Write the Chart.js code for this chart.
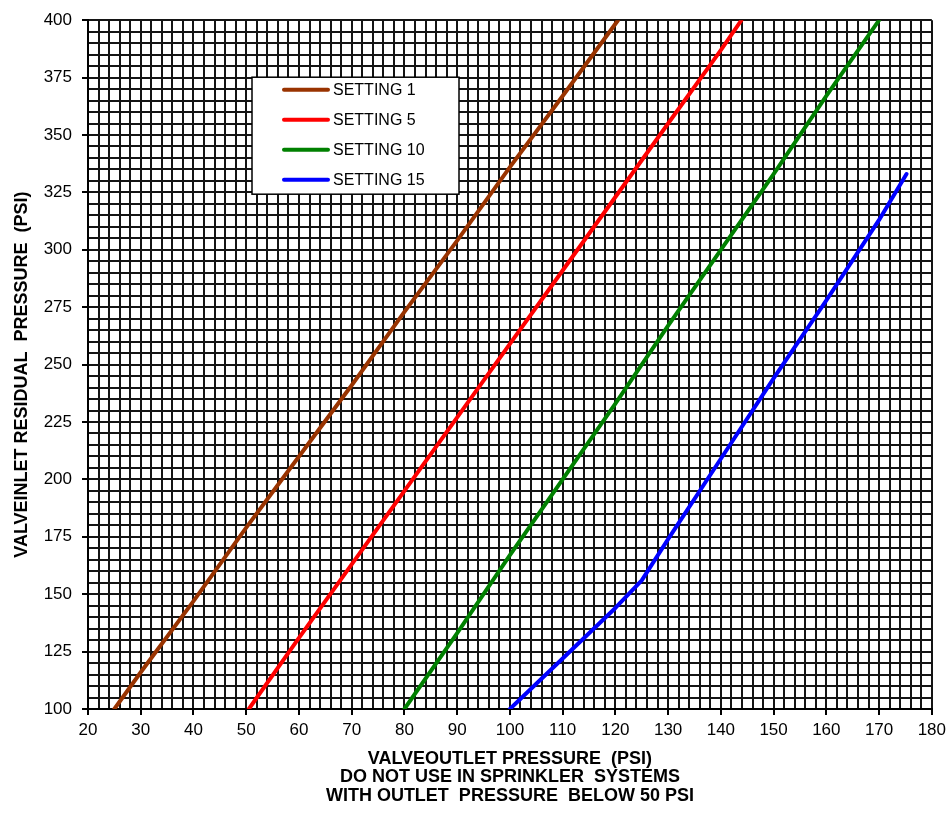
<!DOCTYPE html>
<html>
<head>
<meta charset="utf-8">
<title>Valve Pressure Chart</title>
<script src="https://cdn.jsdelivr.net/npm/chart.js@4.4.1/dist/chart.umd.min.js"></script>
<style>
  html, body { margin: 0; padding: 0; background: #fff; }
  #wrap { width: 951px; height: 820px; }
</style>
</head>
<body>
<div id="wrap"><canvas id="pressureChart"></canvas></div>
<script>
// series names / colors
var seriesLabels = ['SETTING 1', 'SETTING 5', 'SETTING 10', 'SETTING 15'];
var seriesColors = ['#993300', '#ff0000', '#008000', '#0000ff'];

// outlet pressure (x) / inlet residual pressure (y) per setting
var setting1Outlet = [25, 30, 40, 50, 60, 70, 80, 90, 100, 110, 120.5];
var setting1Inlet  = [100, 116, 147, 179, 210, 241, 273, 304, 336, 367, 400];
var setting5Outlet = [50.5, 60, 70, 80, 90, 100, 110, 120, 130, 140, 143.9];
var setting5Inlet  = [100, 131, 163, 195, 227, 259, 291, 323, 355, 387, 400];
var setting10Outlet = [80, 90, 100, 110, 120, 130, 140, 150, 160, 170];
var setting10Inlet  = [100, 133, 167, 200, 233, 267, 300, 333, 367, 400];
var setting15Outlet = [100, 105, 110, 115, 120, 125, 130, 140, 150, 160, 170, 175.2];
var setting15Inlet  = [100, 111, 122, 133, 144, 156, 174, 209, 244, 278, 313, 333];

// axis ticks
var xMin = 20, xMax = 180, xGridStep = 2, xLabelStep = 10;
var yMin = 100, yMax = 400, yGridStep = 5, yLabelStep = 25;

var xTitle = ['VALVEOUTLET PRESSURE  (PSI)', 'DO NOT USE IN SPRINKLER  SYSTEMS', 'WITH OUTLET  PRESSURE  BELOW 50 PSI'];
var yTitle = 'VALVEINLET RESIDUAL  PRESSURE  (PSI)    ';

var fontFamily = '"Liberation Sans", Arial, Helvetica, sans-serif';

function toPoints(xs, ys) {
  return xs.map(function(x, i) { return { x: x, y: ys[i] }; });
}

var allOutlet = [setting1Outlet, setting5Outlet, setting10Outlet, setting15Outlet];
var allInlet = [setting1Inlet, setting5Inlet, setting10Inlet, setting15Inlet];

var datasets = seriesLabels.map(function(label, i) {
  return {
    label: label,
    data: toPoints(allOutlet[i], allInlet[i]),
    borderColor: seriesColors[i],
    backgroundColor: seriesColors[i],
    borderWidth: 4,
    borderCapStyle: 'round',
    borderJoinStyle: 'round',
    showLine: true,
    pointRadius: 0,
    tension: 0
  };
});

// legend box drawn inside plot area
var insideLegend = {
  id: 'insideLegend',
  afterDatasetsDraw: function(chart) {
    var ctx = chart.ctx;
    var area = chart.chartArea;
    var bx = area.left + 164, by = area.top + 57, bw = 207, bh = 117;
    ctx.save();
    ctx.fillStyle = '#fff';
    ctx.fillRect(bx, by, bw, bh);
    ctx.strokeStyle = '#000';
    ctx.lineWidth = 1.5;
    ctx.strokeRect(bx, by, bw, bh);
    ctx.font = '16px ' + fontFamily;
    ctx.textBaseline = 'middle';
    ctx.fillStyle = '#000';
    chart.data.datasets.forEach(function(ds, i) {
      var ry = by + 12.5 + i * 30;
      ctx.beginPath();
      ctx.strokeStyle = ds.borderColor;
      ctx.lineWidth = 4;
      ctx.lineCap = 'round';
      ctx.moveTo(bx + 32, ry);
      ctx.lineTo(bx + 76, ry);
      ctx.stroke();
      ctx.fillStyle = '#000';
      ctx.fillText(ds.label, bx + 81, ry + 1);
    });
    ctx.restore();
  }
};

var ctx = document.getElementById('pressureChart').getContext('2d');
var pressureChart = new Chart(ctx, {
  type: 'scatter',
  data: { datasets: datasets },
  options: {
    responsive: true,
    maintainAspectRatio: false,
    animation: false,
    layout: { padding: { top: 16, right: 18, left: 0, bottom: 0 } },
    plugins: {
      legend: { display: false },
      tooltip: { enabled: false }
    },
    scales: {
      x: {
        type: 'linear',
        min: xMin,
        max: xMax,
        afterFit: function(scale) { scale.height = 111; },
        ticks: {
          stepSize: xGridStep,
          autoSkip: false,
          maxRotation: 0,
          padding: 5,
          color: '#000',
          font: { family: fontFamily, size: 17 },
          callback: function(v) { return Math.round(v) % xLabelStep === 0 ? Math.round(v) : ''; }
        },
        grid: {
          color: '#141414',
          lineWidth: 2,
          tickLength: 6,
          tickColor: function(c) { return c.tick && Math.round(c.tick.value) % xLabelStep === 0 ? '#000' : 'rgba(0,0,0,0)'; }
        },
        border: { color: '#000', width: 2 },
        title: {
          display: true,
          text: xTitle,
          color: '#000',
          font: { family: fontFamily, size: 18, weight: 'bold', lineHeight: 1.02 },
          padding: { top: 0, bottom: 15 }
        }
      },
      y: {
        type: 'linear',
        min: yMin,
        max: yMax,
        afterFit: function(scale) { scale.width = 88; },
        ticks: {
          stepSize: yGridStep,
          autoSkip: false,
          padding: 10,
          color: '#000',
          font: { family: fontFamily, size: 17 },
          callback: function(v) { return Math.round(v) % yLabelStep === 0 ? Math.round(v) : ''; }
        },
        grid: {
          color: '#141414',
          lineWidth: 2,
          tickLength: 6,
          tickColor: function(c) { return c.tick && Math.round(c.tick.value) % yLabelStep === 0 ? '#000' : 'rgba(0,0,0,0)'; }
        },
        border: { color: '#000', width: 2 },
        title: {
          display: true,
          text: yTitle,
          color: '#000',
          font: { family: fontFamily, size: 18, weight: 'bold' },
          padding: { top: 11, bottom: 0 }
        }
      }
    }
  },
  plugins: [insideLegend]
});
</script>
</body>
</html>
